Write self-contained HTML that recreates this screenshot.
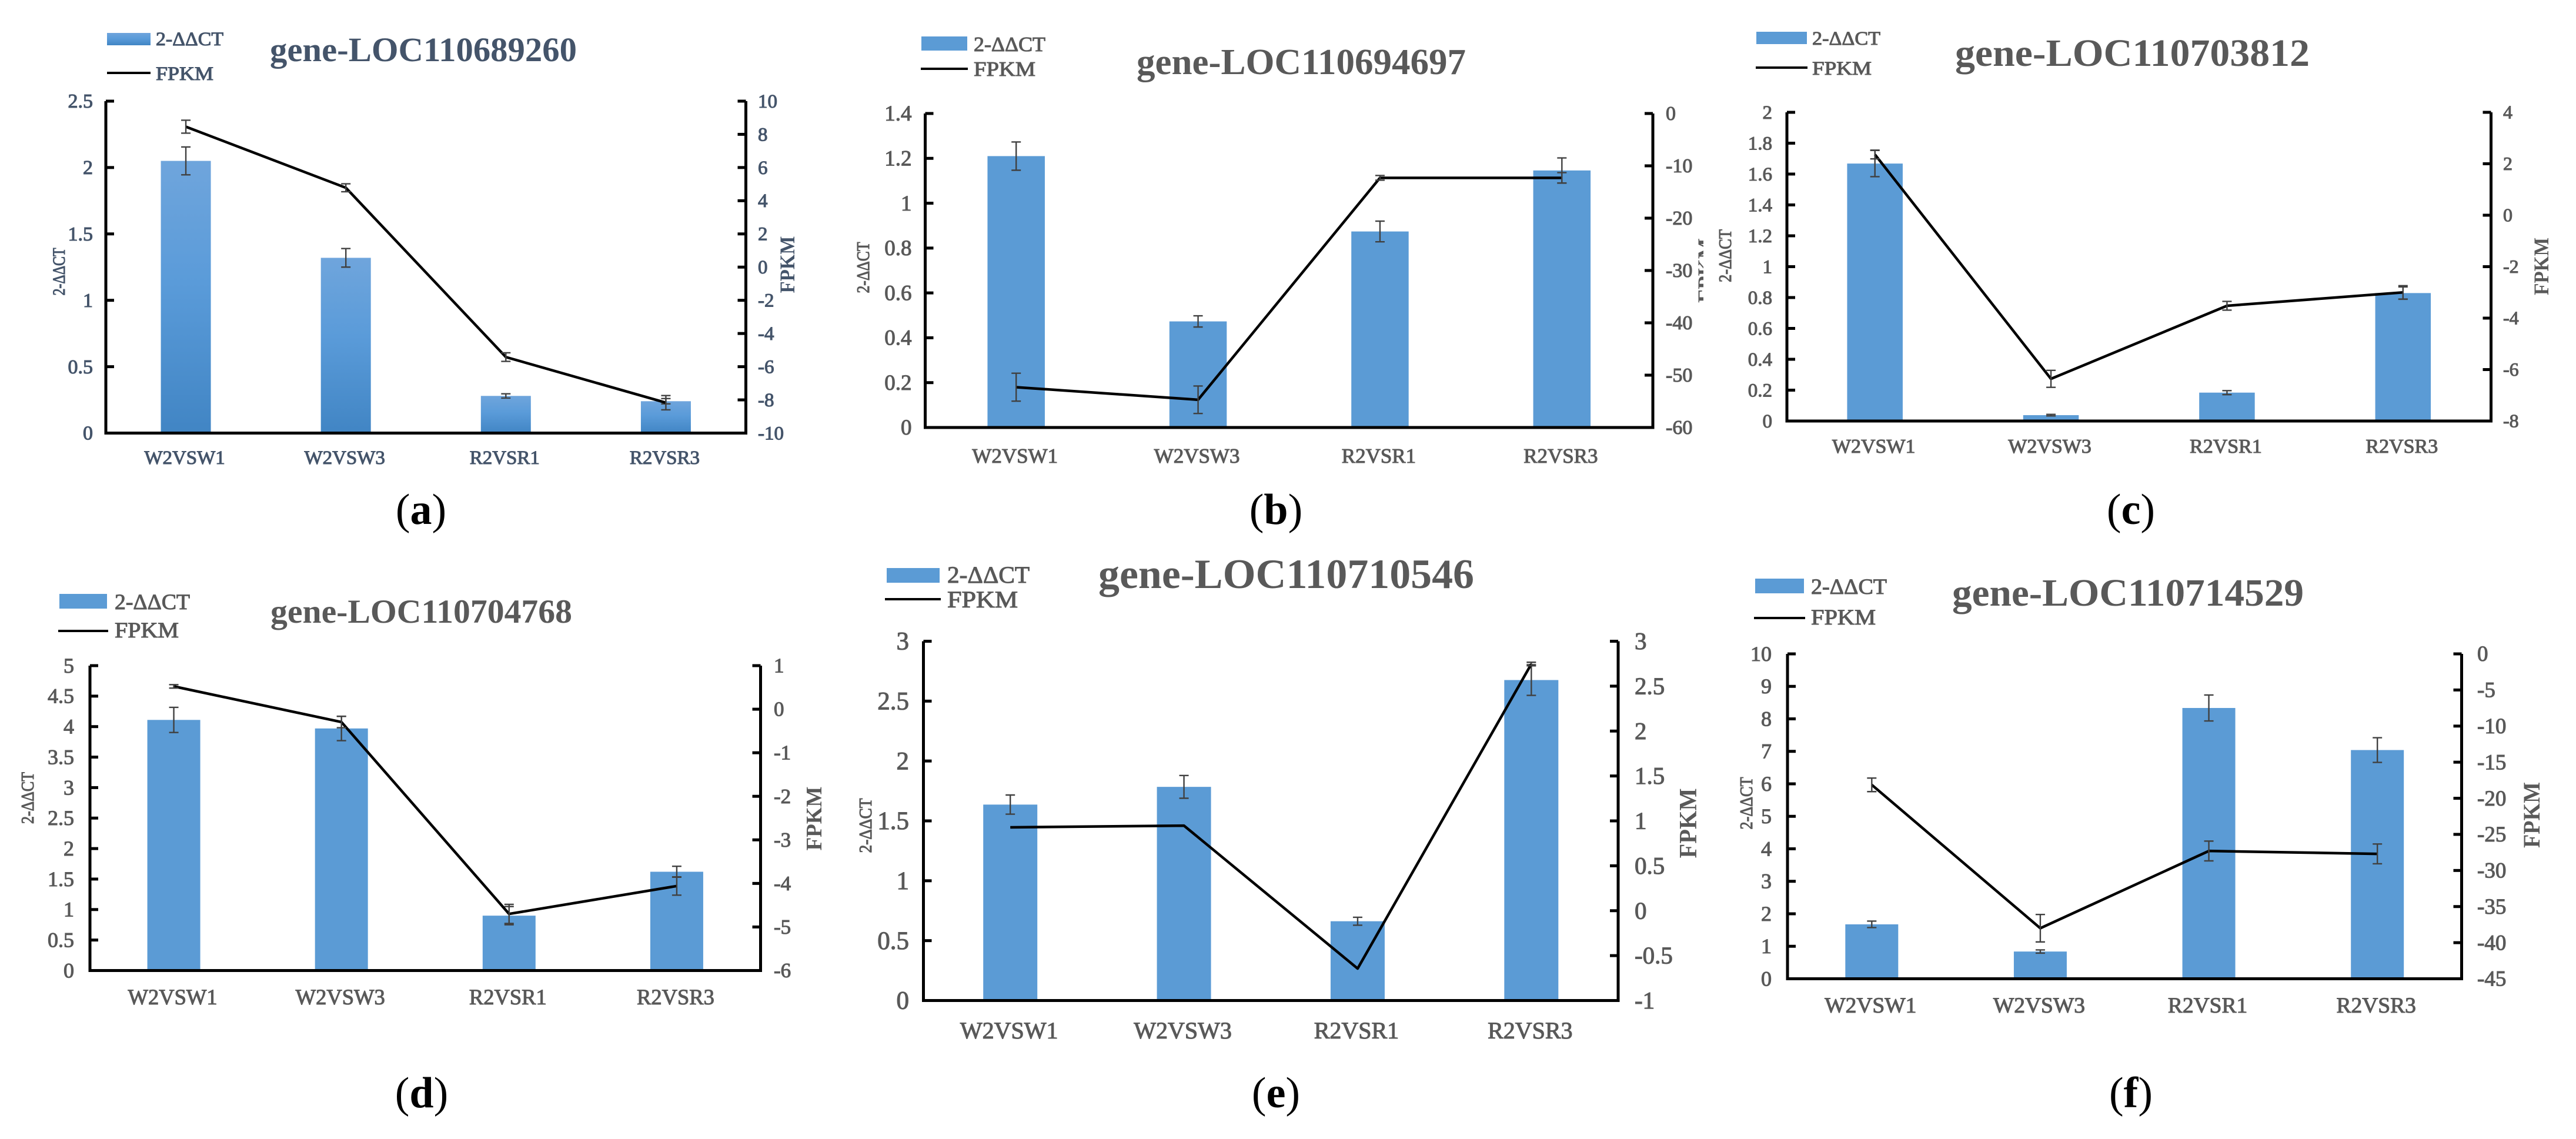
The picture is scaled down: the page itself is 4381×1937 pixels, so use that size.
<!DOCTYPE html>
<html lang="en">
<head>
<meta charset="utf-8">
<title>qPCR and FPKM comparison for six genes</title>
<style>
html,body{margin:0;padding:0;background:#fff;}
svg{display:block;}
text{font-family:"Liberation Serif",serif;}
.c-a{fill:#44546a;stroke:#44546a;}
.c-g{fill:#595959;stroke:#595959;}
.semi{stroke-width:1.1;}
.title{font-weight:bold;stroke-width:0;}
.cap{fill:#000;stroke:none;}
</style>
</head>
<body>
<svg id="figure" width="4381" height="1937" viewBox="0 0 4381 1937" xmlns="http://www.w3.org/2000/svg">
<defs>
<linearGradient id="barGrad" x1="0" y1="0" x2="0" y2="1">
<stop offset="0" stop-color="#6fa5dc"/><stop offset=".45" stop-color="#5a9bd9"/><stop offset="1" stop-color="#4185c4"/>
</linearGradient>
</defs>
<rect x="0" y="0" width="4381" height="1937" fill="#fff"/>

<g id="panel-a">
<text class="c-a title" x="459" y="104" font-size="58" textLength="522" lengthAdjust="spacingAndGlyphs">gene-LOC110689260</text>
<rect x="182" y="56" width="74" height="21" fill="url(#barGrad)"/>
<text class="c-a semi" x="265" y="77" font-size="33" textLength="115" lengthAdjust="spacingAndGlyphs">2-ΔΔCT</text>
<line x1="182" y1="124" x2="256" y2="124" stroke="#000" stroke-width="4"/>
<text class="c-a semi" x="265" y="136" font-size="33" textLength="98" lengthAdjust="spacingAndGlyphs">FPKM</text>
<text class="c-a semi" transform="translate(110 462) rotate(-90)" text-anchor="middle" font-size="30" textLength="81" lengthAdjust="spacingAndGlyphs">2-ΔΔCT</text>
<text class="c-a title" transform="translate(1351 450) rotate(-90)" text-anchor="middle" font-size="36" textLength="97" lengthAdjust="spacingAndGlyphs">FPKM</text>
<text class="cap" x="716" y="891" font-size="74" text-anchor="middle">(<tspan font-weight="bold">a</tspan>)</text>
</g>

<g id="panel-b">
<text class="c-g title" x="1933" y="126" font-size="62" textLength="560" lengthAdjust="spacingAndGlyphs">gene-LOC110694697</text>
<rect x="1567" y="62" width="78" height="24" fill="#5b9bd5"/>
<text class="c-g semi" x="1656" y="87" font-size="35" textLength="122" lengthAdjust="spacingAndGlyphs">2-ΔΔCT</text>
<line x1="1566" y1="117" x2="1646" y2="117" stroke="#000" stroke-width="4"/>
<text class="c-g semi" x="1656" y="129" font-size="35" textLength="105" lengthAdjust="spacingAndGlyphs">FPKM</text>
<text class="c-g semi" transform="translate(1478 455) rotate(-90)" text-anchor="middle" font-size="31" textLength="87" lengthAdjust="spacingAndGlyphs">2-ΔΔCT</text>
<text class="c-g title" transform="translate(2912 460) rotate(-90)" text-anchor="middle" font-size="36" textLength="110" lengthAdjust="spacingAndGlyphs">FPKM</text>
<rect x="2897" y="395" width="20" height="130" fill="#fff"/>
<text class="cap" x="2170" y="891" font-size="74" text-anchor="middle">(<tspan font-weight="bold">b</tspan>)</text>
</g>

<g id="panel-c">
<text class="c-g title" x="3325" y="112" font-size="66" textLength="603" lengthAdjust="spacingAndGlyphs">gene-LOC110703812</text>
<rect x="2987" y="54" width="86" height="21" fill="#5b9bd5"/>
<text class="c-g semi" x="3082" y="76" font-size="33" textLength="116" lengthAdjust="spacingAndGlyphs">2-ΔΔCT</text>
<line x1="2986" y1="115" x2="3074" y2="115" stroke="#000" stroke-width="4"/>
<text class="c-g semi" x="3082" y="127" font-size="33" textLength="101" lengthAdjust="spacingAndGlyphs">FPKM</text>
<text class="c-g semi" transform="translate(2944 435) rotate(-90)" text-anchor="middle" font-size="31" textLength="90" lengthAdjust="spacingAndGlyphs">2-ΔΔCT</text>
<text class="c-g title" transform="translate(4334 453) rotate(-90)" text-anchor="middle" font-size="36" textLength="98" lengthAdjust="spacingAndGlyphs">FPKM</text>
<text class="cap" x="3624" y="891" font-size="74" text-anchor="middle">(<tspan font-weight="bold">c</tspan>)</text>
</g>

<g id="panel-d">
<text class="c-g title" x="460" y="1059" font-size="57" textLength="513" lengthAdjust="spacingAndGlyphs">gene-LOC110704768</text>
<rect x="101" y="1010" width="81" height="25" fill="#5b9bd5"/>
<text class="c-g semi" x="195" y="1036" font-size="37" textLength="128" lengthAdjust="spacingAndGlyphs">2-ΔΔCT</text>
<line x1="99" y1="1073" x2="184" y2="1073" stroke="#000" stroke-width="4"/>
<text class="c-g semi" x="195" y="1084" font-size="37" textLength="109" lengthAdjust="spacingAndGlyphs">FPKM</text>
<text class="c-g semi" transform="translate(57 1357) rotate(-90)" text-anchor="middle" font-size="31" textLength="88" lengthAdjust="spacingAndGlyphs">2-ΔΔCT</text>
<text class="c-g title" transform="translate(1397 1392) rotate(-90)" text-anchor="middle" font-size="38" textLength="109" lengthAdjust="spacingAndGlyphs">FPKM</text>
<text class="cap" x="717" y="1883" font-size="74" text-anchor="middle">(<tspan font-weight="bold">d</tspan>)</text>
</g>

<g id="panel-e">
<text class="c-g title" x="1868" y="1000" font-size="71" textLength="639" lengthAdjust="spacingAndGlyphs">gene-LOC110710546</text>
<rect x="1508" y="966" width="90" height="25" fill="#5b9bd5"/>
<text class="c-g semi" x="1611" y="991" font-size="40" textLength="140" lengthAdjust="spacingAndGlyphs">2-ΔΔCT</text>
<line x1="1505" y1="1019" x2="1600" y2="1019" stroke="#000" stroke-width="4"/>
<text class="c-g semi" x="1611" y="1033" font-size="40" textLength="120" lengthAdjust="spacingAndGlyphs">FPKM</text>
<text class="c-g semi" transform="translate(1482 1404) rotate(-90)" text-anchor="middle" font-size="31" textLength="93" lengthAdjust="spacingAndGlyphs">2-ΔΔCT</text>
<text class="c-g title" transform="translate(2885 1400) rotate(-90)" text-anchor="middle" font-size="42" textLength="119" lengthAdjust="spacingAndGlyphs">FPKM</text>
<text class="cap" x="2170" y="1883" font-size="74" text-anchor="middle">(<tspan font-weight="bold">e</tspan>)</text>
</g>

<g id="panel-f">
<text class="c-g title" x="3320" y="1030" font-size="66" textLength="598" lengthAdjust="spacingAndGlyphs">gene-LOC110714529</text>
<rect x="2985" y="984" width="83" height="25" fill="#5b9bd5"/>
<text class="c-g semi" x="3080" y="1010" font-size="37" textLength="129" lengthAdjust="spacingAndGlyphs">2-ΔΔCT</text>
<line x1="2983" y1="1051" x2="3070" y2="1051" stroke="#000" stroke-width="4"/>
<text class="c-g semi" x="3080" y="1062" font-size="37" textLength="110" lengthAdjust="spacingAndGlyphs">FPKM</text>
<text class="c-g semi" transform="translate(2980 1366) rotate(-90)" text-anchor="middle" font-size="31" textLength="89" lengthAdjust="spacingAndGlyphs">2-ΔΔCT</text>
<text class="c-g title" transform="translate(4319 1386) rotate(-90)" text-anchor="middle" font-size="40" textLength="112" lengthAdjust="spacingAndGlyphs">FPKM</text>
<text class="cap" x="3624" y="1883" font-size="74" text-anchor="middle">(<tspan font-weight="bold">f</tspan>)</text>
</g>
</svg>

<script>
const categories = ['W2VSW1', 'W2VSW3', 'R2VSR1', 'R2VSR3'];

const qpcrA = [2.05, 1.32, 0.28, 0.24];
const qpcrErrA = [0.105, 0.07, 0.016, 0.02];
const fpkmA = [8.46, 4.78, -5.42, -8.17];
const fpkmErrA = [0.39, 0.24, 0.26, 0.43];
const leftTicksA = ['0', '0.5', '1', '1.5', '2', '2.5'];
const rightTicksA = ['-10', '-8', '-6', '-4', '-2', '0', '2', '4', '6', '8', '10'];

const qpcrB = [1.21, 0.473, 0.874, 1.146];
const qpcrErrB = [0.063, 0.025, 0.046, 0.056];
const fpkmB = [-52.3, -54.7, -12.3, -12.3];
const fpkmErrB = [2.67, 2.63, 0.45, 1.0];
const leftTicksB = ['0', '0.2', '0.4', '0.6', '0.8', '1', '1.2', '1.4'];
const rightTicksB = ['-60', '-50', '-40', '-30', '-20', '-10', '0'];

const qpcrC = [1.668, 0.038, 0.184, 0.829];
const qpcrErrC = [0.085, 0.005, 0.013, 0.04];
const fpkmC = [2.36, -6.36, -3.52, -3.0];
const fpkmErrC = [0.17, 0.33, 0.17, 0.26];
const leftTicksC = ['0', '0.2', '0.4', '0.6', '0.8', '1', '1.2', '1.4', '1.6', '1.8', '2'];
const rightTicksC = ['-8', '-6', '-4', '-2', '0', '2', '4'];

const qpcrD = [4.11, 3.97, 0.90, 1.62];
const qpcrErrD = [0.206, 0.2, 0.15, 0.09];
const fpkmD = [0.524, -0.295, -4.70, -4.06];
const fpkmErrD = [0.04, 0.13, 0.22, 0.21];
const leftTicksD = ['0', '0.5', '1', '1.5', '2', '2.5', '3', '3.5', '4', '4.5', '5'];
const rightTicksD = ['-6', '-5', '-4', '-3', '-2', '-1', '0', '1'];

const qpcrE = [1.636, 1.784, 0.662, 2.676];
const qpcrErrE = [0.08, 0.095, 0.033, 0.128];
const fpkmE = [0.928, 0.947, -0.644, 2.746];
const fpkmErrE = [0, 0, 0, 0.02];
const leftTicksE = ['0', '0.5', '1', '1.5', '2', '2.5', '3'];
const rightTicksE = ['-1', '-0.5', '0', '0.5', '1', '1.5', '2', '2.5', '3'];

const qpcrF = [1.675, 0.838, 8.335, 7.04];
const qpcrErrF = [0.1, 0.05, 0.40, 0.38];
const fpkmF = [-18.14, -38.0, -27.3, -27.7];
const fpkmErrF = [0.94, 1.9, 1.37, 1.37];
const leftTicksF = ['0', '1', '2', '3', '4', '5', '6', '7', '8', '9', '10'];
const rightTicksF = ['-45', '-40', '-35', '-30', '-25', '-20', '-15', '-10', '-5', '0'];

const NS = 'http://www.w3.org/2000/svg';

function make(parent, tag, attrs) {
  const el = document.createElementNS(NS, tag);
  Object.keys(attrs).forEach(function (k) { el.setAttribute(k, attrs[k]); });
  parent.appendChild(el);
  return el;
}

function linearScale(ticks, top, bottom) {
  const lo = parseFloat(ticks[0]);
  const hi = parseFloat(ticks[ticks.length - 1]);
  return function (v) { return bottom - (v - lo) / (hi - lo) * (bottom - top); };
}

function drawError(group, x, y, value, err, name, capHalf) {
  if (!err) { return; }
  const stem = make(group, 'path', {
    d: 'M' + (x - capHalf) + ' ' + y(value + err) + 'H' + (x + capHalf) +
       'M' + x + ' ' + y(value + err) + 'V' + y(value - err) +
       'M' + (x - capHalf) + ' ' + y(value - err) + 'H' + (x + capHalf),
    fill: 'none', stroke: '#404040', 'stroke-width': 2.4
  });
  
  
}

function drawPanel(p) {
  const g = document.getElementById('panel-' + p.id);
  const yL = linearScale(p.leftTicks, p.top, p.bottom);
  const yR = linearScale(p.rightTicks, p.top, p.bottom);
  const slot = (p.right - p.left) / categories.length;
  const xPos = function (i) { return p.left + slot * (i + 0.5); };

  categories.forEach(function (cat, i) {
    const bar = make(g, 'rect', {
      x: xPos(i) - p.barWidth / 2, y: yL(p.qpcr[i]),
      width: p.barWidth, height: p.bottom - yL(p.qpcr[i]), fill: p.barFill
    });
    
    
    drawError(g, xPos(i), yL, p.qpcr[i], p.qpcrErr[i], 'bar-error-' + p.id + '-' + cat.toLowerCase(), 8);
  });

  const axes = make(g, 'path', {
    d: 'M' + p.left + ' ' + p.top + 'V' + p.bottom + 'H' + p.right + 'V' + p.top,
    fill: 'none', stroke: '#000', 'stroke-width': 5
  });
  
  

  p.leftTicks.forEach(function (t) {
    const yy = yL(parseFloat(t));
    const mark = make(g, 'line', { x1: p.left, x2: p.left + 14, y1: yy, y2: yy, stroke: '#000', 'stroke-width': 5 });
    
    
    const label = make(g, 'text', {
      x: p.leftLabelX, y: yy + p.leftFont * 0.33, 'font-size': p.leftFont,
      'text-anchor': 'end', class: p.cls + ' semi'
    });
    label.textContent = t;
    
    
  });

  p.rightTicks.forEach(function (t) {
    const yy = yR(parseFloat(t));
    const mark = make(g, 'line', { x1: p.right - 14, x2: p.right, y1: yy, y2: yy, stroke: '#000', 'stroke-width': 5 });
    
    
    const label = make(g, 'text', {
      x: p.rightLabelX, y: yy + p.rightFont * 0.33, 'font-size': p.rightFont, class: p.cls + ' semi'
    });
    label.textContent = t;
    
    
  });

  categories.forEach(function (cat, i) {
    const label = make(g, 'text', {
      x: xPos(i) - 2, y: p.catY, 'font-size': p.catFont, 'text-anchor': 'middle', class: p.cls + ' semi'
    });
    label.textContent = cat;
    
    
  });

  const pts = p.fpkm.map(function (v, i) { return xPos(i) + ',' + yR(v); }).join(' ');
  const line = make(g, 'polyline', {
    points: pts, fill: 'none', stroke: '#000', 'stroke-width': 4.5, 'stroke-linejoin': 'round'
  });
  
  

  p.fpkm.forEach(function (v, i) {
    drawError(g, xPos(i), yR, v, p.fpkmErr[i], 'fpkm-error-' + p.id + '-' + categories[i].toLowerCase(), 8);
  });
}

const panelLayouts = [
  { id: 'a', qpcr: qpcrA, qpcrErr: qpcrErrA, fpkm: fpkmA, fpkmErr: fpkmErrA, leftTicks: leftTicksA, rightTicks: rightTicksA,
    left: 180, right: 1268.5, top: 172, bottom: 736.5, barWidth: 85, barFill: 'url(#barGrad)', cls: 'c-a',
    leftLabelX: 158, rightLabelX: 1289, leftFont: 34, rightFont: 33, catFont: 33, catY: 789 },
  { id: 'b', qpcr: qpcrB, qpcrErr: qpcrErrB, fpkm: fpkmB, fpkmErr: fpkmErrB, leftTicks: leftTicksB, rightTicks: rightTicksB,
    left: 1573.5, right: 2811, top: 193, bottom: 727, barWidth: 97.5, barFill: '#5b9bd5', cls: 'c-g',
    leftLabelX: 1550.5, rightLabelX: 2833, leftFont: 37, rightFont: 34, catFont: 35, catY: 787 },
  { id: 'c', qpcr: qpcrC, qpcrErr: qpcrErrC, fpkm: fpkmC, fpkmErr: fpkmErrC, leftTicks: leftTicksC, rightTicks: rightTicksC,
    left: 3039, right: 4236.5, top: 191, bottom: 716, barWidth: 94.5, barFill: '#5b9bd5', cls: 'c-g',
    leftLabelX: 3014, rightLabelX: 4257, leftFont: 33, rightFont: 32, catFont: 34, catY: 770 },
  { id: 'd', qpcr: qpcrD, qpcrErr: qpcrErrD, fpkm: fpkmD, fpkmErr: fpkmErrD, leftTicks: leftTicksD, rightTicks: rightTicksD,
    left: 153, right: 1293.5, top: 1132, bottom: 1650.5, barWidth: 90, barFill: '#5b9bd5', cls: 'c-g',
    leftLabelX: 126, rightLabelX: 1316, leftFont: 36, rightFont: 35, catFont: 36.5, catY: 1708 },
  { id: 'e', qpcr: qpcrE, qpcrErr: qpcrErrE, fpkm: fpkmE, fpkmErr: fpkmErrE, leftTicks: leftTicksE, rightTicks: rightTicksE,
    left: 1570.5, right: 2752, top: 1090.5, bottom: 1701.5, barWidth: 92, barFill: '#5b9bd5', cls: 'c-g',
    leftLabelX: 1546, rightLabelX: 2780, leftFont: 43, rightFont: 41, catFont: 40, catY: 1766 },
  { id: 'f', qpcr: qpcrF, qpcrErr: qpcrErrF, fpkm: fpkmF, fpkmErr: fpkmErrF, leftTicks: leftTicksF, rightTicks: rightTicksF,
    left: 3040, right: 4186.5, top: 1112, bottom: 1664.5, barWidth: 90, barFill: '#5b9bd5', cls: 'c-g',
    leftLabelX: 3013, rightLabelX: 4213, leftFont: 36, rightFont: 37, catFont: 37.5, catY: 1722 }
];

panelLayouts.forEach(drawPanel);
</script>
</body>
</html>
